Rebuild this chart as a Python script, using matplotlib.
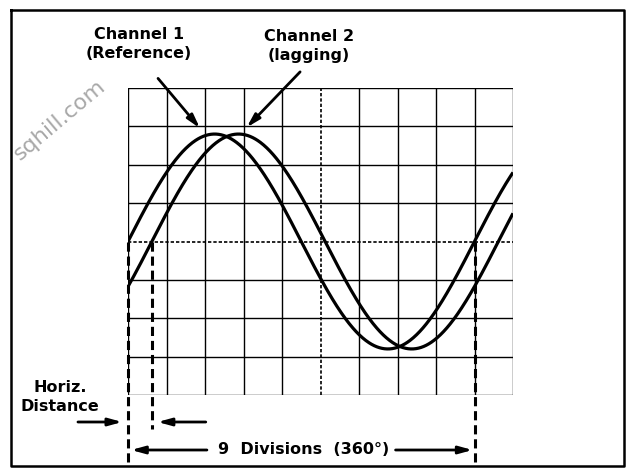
import numpy as np
import matplotlib
matplotlib.use("Agg")
import matplotlib.pyplot as plt

# scope readings, in divisions
n_hdiv = 10
n_vdiv = 8
amplitude_div = 2.8      # peak height of both traces
period_div = 9.0         # one full cycle = 9 divisions (360 deg)
lag_div = 0.62           # channel 2 lags channel 1 by this much

labels = ["Channel 1\n(Reference)", "Channel 2\n(lagging)"]
phase_text = "9  Divisions  (360°)"
dist_text = "Horiz.\nDistance"

W, H = 633, 468
fig = plt.figure(figsize=(W / 100, H / 100), dpi=100)

# overlay in pixel coords for frame + labels
ov = fig.add_axes([0, 0, 1, 1])
ov.set_xlim(0, W)
ov.set_ylim(H, 0)
ov.axis('off')
ov.plot([11, 624, 624, 11, 11], [10, 10, 466, 466, 10], color='black', lw=1.8)

# screen axes (graticule)
left, right, top, bot = 128, 513, 88, 395
ax = fig.add_axes([left / W, (H - bot) / H, (right - left) / W, (bot - top) / H])
ax.set_xlim(0, n_hdiv)
ax.set_ylim(-n_vdiv / 2, n_vdiv / 2)
ax.axis('off')
ax.patch.set_alpha(0)

for i in range(n_hdiv + 1):
    if i == n_hdiv // 2:
        ax.plot([i, i], [-4, 4], color='black', lw=1.2, ls=(0, (2, 1.2)))
    else:
        ax.plot([i, i], [-4, 4], color='black', lw=1.0)
for j in range(-n_vdiv // 2, n_vdiv // 2 + 1):
    if j == 0:
        ax.plot([0, n_hdiv], [j, j], color='black', lw=1.2, ls=(0, (2, 1.2)))
    else:
        ax.plot([0, n_hdiv], [j, j], color='black', lw=1.0)

# traces
x = np.linspace(0, n_hdiv, 600)
ch1 = amplitude_div * np.sin(2 * np.pi * x / period_div)
ch2 = amplitude_div * np.sin(2 * np.pi * (x - lag_div) / period_div)
ax.plot(x, ch1, color='black', lw=2.3, solid_capstyle='butt')
ax.plot(x, ch2, color='black', lw=2.3, solid_capstyle='butt')

# dashed measurement lines (below the screen, so no clipping)
py = 8 / (bot - top)   # divisions per pixel
y_dist = -4 - (422 - bot) * py
y_phase = -4 - (450 - bot) * py
y_end_long = -4 - (463 - bot) * py
y_end_short = -4 - (429 - bot) * py
dash = dict(color='black', lw=2.2, ls=(0, (3, 1.6)), clip_on=False)
ax.plot([0, 0], [0, y_end_long], **dash)
ax.plot([lag_div, lag_div], [0, y_end_short], **dash)
ax.plot([period_div, period_div], [0, y_end_long], **dash)

# horizontal distance arrows
arr = dict(arrowstyle='-|>,head_length=0.8,head_width=0.22', color='black', lw=2.0,
           shrinkA=0, shrinkB=0)
ax.annotate('', xy=(-0.15, y_dist), xytext=(-1.3, y_dist), arrowprops=arr,
            annotation_clip=False)
ax.annotate('', xy=(lag_div + 0.15, y_dist), xytext=(lag_div + 1.4, y_dist),
            arrowprops=arr, annotation_clip=False)

# 9 divisions arrow
ax.annotate('', xy=(0.08, y_phase), xytext=(2.05, y_phase), arrowprops=arr,
            annotation_clip=False)
ax.annotate('', xy=(period_div - 0.05, y_phase), xytext=(6.95, y_phase),
            arrowprops=arr, annotation_clip=False)
ax.text(4.55, y_phase, phase_text, ha='center', va='center', fontsize=11.5,
        fontweight='bold', clip_on=False)

# channel callouts
ax.annotate('', xy=(1.87, 2.95), xytext=(0.78, 4.25), arrowprops=arr,
            annotation_clip=False)
ax.annotate('', xy=(3.08, 2.97), xytext=(4.47, 4.42), arrowprops=arr,
            annotation_clip=False)

ov.text(139, 44, labels[0], ha='center', va='center', fontsize=11.5,
        fontweight='bold', linespacing=1.4)
ov.text(309, 46, labels[1], ha='center', va='center', fontsize=11.5,
        fontweight='bold', linespacing=1.4)
ov.text(60, 397, dist_text, ha='center', va='center', fontsize=11.5,
        fontweight='bold', linespacing=1.4, multialignment='center')

# watermark
ov.text(60, 120, "sqhill.com", ha='center', va='center', fontsize=16,
        rotation=40, color='#a8a8a8')

fig.savefig("out.png", dpi=100)
